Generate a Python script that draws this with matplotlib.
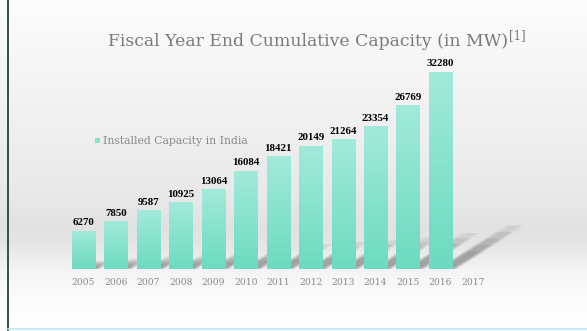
import numpy as np
import matplotlib
matplotlib.use("Agg")
import matplotlib.pyplot as plt
from matplotlib.patches import Polygon, Rectangle
from matplotlib.colors import LinearSegmentedColormap

# ---- data ----
years = ["2005", "2006", "2007", "2008", "2009", "2010", "2011", "2012",
         "2013", "2014", "2015", "2016", "2017"]
capacity = [6270, 7850, 9587, 10925, 13064, 16084, 18421, 20149,
            21264, 23354, 26769, 32280]
title = "Fiscal Year End Cumulative Capacity (in MW)"
title_ref = "[1]"
legend_label = "Installed Capacity in India"

W, H = 587, 331
fig = plt.figure(figsize=(W / 100, H / 100), dpi=100)

# ---- background gradient ----
bg = fig.add_axes([0, 0, 1, 1])
bg.set_axis_off()
ys = np.linspace(0, 1, 331)  # 0 = top
stops_y = np.array([0.0, 0.08, 0.35, 0.60, 0.69, 0.74, 0.82, 0.92, 1.0])
stops_v = np.array([0.99, 0.98, 0.945, 0.91, 0.885, 0.90, 0.96, 0.99, 0.997])
col = np.interp(ys, stops_y, stops_v)
img = np.repeat(col[:, None], 50, axis=1)
img = np.dstack([img, img, img])
bg.imshow(img, extent=[0, 1, 0, 1], aspect="auto", origin="upper")
bg.set_xlim(0, 1)
bg.set_ylim(0, 1)
# frame lines
bg.plot([7.5 / W, 7.5 / W], [0, 1], color="#2f4f4f", lw=1.4)
bg.plot([7.5 / W, 1], [1 - 329 / H, 1 - 329 / H], color="#bfe6f0", lw=1.2)

# ---- main axes ----
left = 67.3 / W
width = 421.8 / W
bottom = (H - 269) / H
height = 213.9 / H
ax = fig.add_axes([left, bottom, width, height])
ax.set_xlim(-0.5, 12.5)
ax.set_ylim(0, 35000)
ax.set_axis_off()

x = np.arange(len(capacity))
bw = 0.71

# soft perspective shadows
for xi, v in zip(x, capacity):
    dx = v * 6.5e-5
    dy = v * 0.22
    xr = xi + bw / 2
    xl = xr - 0.32
    for f in np.linspace(0.4, 1.0, 5):
        for e in (0.0, 0.07, 0.14):
            pts = [(xl - e, 0), (xr + e, 0),
                   (xr + e + dx * f, dy * f), (xl - e + dx * f, dy * f)]
            ax.add_patch(Polygon(pts, closed=True, facecolor="#505050",
                                 edgecolor="none", alpha=0.04, zorder=1,
                                 clip_on=False))

bars = ax.bar(x, capacity, width=bw, color="#86e3cc", zorder=2)

# gradient fill for bars
cmap = LinearSegmentedColormap.from_list("mint", ["#6cdbbf", "#a2eada"])
grad = np.linspace(0, 1, 100)[:, None]
for b in bars:
    bx, by = b.get_x(), b.get_y()
    bwid, bh = b.get_width(), b.get_height()
    im = ax.imshow(grad, cmap=cmap, extent=[bx, bx + bwid, by, by + bh],
                   origin="lower", aspect="auto", zorder=3)
    im.set_clip_path(b)
ax.set_xlim(-0.5, 12.5)
ax.set_ylim(0, 35000)

# value labels
for xi, v in zip(x, capacity):
    ax.annotate(str(v), (xi, v), xytext=(0, 2.5), textcoords="offset points",
                ha="center", va="bottom", fontsize=7.8, fontweight="bold",
                family="Liberation Serif", color="black", zorder=5)

# year labels
for i, yl in enumerate(years):
    ax.annotate(yl, (i, 0), xytext=(0, -9.5), textcoords="offset points",
                ha="center", va="center", fontsize=6.6, family="DejaVu Serif",
                color="#8a8a8a", zorder=5)

# ---- title ----
t = fig.text(108 / W, 1 - 46 / H, title, ha="left", va="baseline",
             fontsize=12.4, family="DejaVu Serif", color="#7a7a7a")
fig.canvas.draw()
bb = t.get_window_extent()
fig.text(bb.x1 / W + 1 / W, 1 - 39.5 / H, title_ref, ha="left", va="baseline",
         fontsize=8.5, family="DejaVu Serif", color="#7a7a7a")

# ---- legend ----
bg.add_patch(Rectangle((95 / W, 1 - 143 / H), 5 / W, 5 / H,
                       facecolor="#86e3cc", edgecolor="none"))
fig.text(103 / W, 1 - 140.5 / H, legend_label, ha="left", va="center",
         fontsize=7.8, family="DejaVu Serif", color="#8a8a8a")

fig.savefig("out.png", dpi=100)
